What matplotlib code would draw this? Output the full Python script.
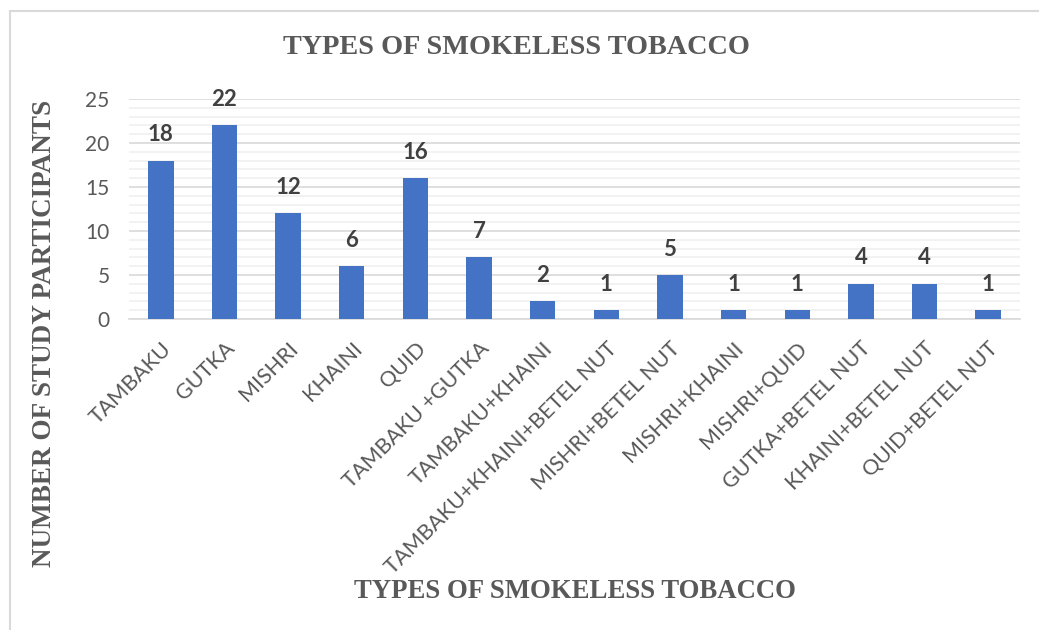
import numpy as np
import matplotlib.pyplot as plt
from matplotlib.patches import Rectangle
from matplotlib.ticker import MultipleLocator

# data
categories = ['TAMBAKU', 'GUTKA', 'MISHRI', 'KHAINI', 'QUID', 'TAMBAKU +GUTKA',
              'TAMBAKU+KHAINI', 'TAMBAKU+KHAINI+BETEL NUT', 'MISHRI+BETEL NUT',
              'MISHRI+KHAINI', 'MISHRI+QUID', 'GUTKA+BETEL NUT',
              'KHAINI+BETEL NUT', 'QUID+BETEL NUT']
counts = [18, 22, 12, 6, 16, 7, 2, 1, 5, 1, 1, 4, 4, 1]
yticks = [0, 5, 10, 15, 20, 25]

title = 'TYPES OF SMOKELESS TOBACCO'
xlabel = 'TYPES OF SMOKELESS TOBACCO'
ylabel = 'NUMBER OF STUDY PARTICIPANTS'

def main():
    fig = plt.figure(figsize=(10.39, 6.30), dpi=100)
    fig.patch.set_facecolor('white')
    # chart border (light gray, cut by the image on right/bottom)
    fig.add_artist(Rectangle((10/1039, -0.05), 1.1, 1 - 11/630 + 0.05,
                             transform=fig.transFigure, fill=False,
                             edgecolor='#d9d9d9', lw=1.5))

    ax = fig.add_axes([129/1039, 1 - 319/630, (1020 - 129)/1039, (319 - 99)/630])
    x = np.arange(len(categories))
    ax.bar(x, counts, width=0.4, color='#4472c4', zorder=3)

    for xi, v in zip(x, counts):
        ax.annotate(str(v), (xi, v), xytext=(0, 14), textcoords='offset points',
                    ha='center', va='baseline', fontsize=16, fontweight='bold',
                    color='#404040', family='Lato')

    ax.set_xlim(-0.5, len(categories) - 0.5)
    ax.set_ylim(0, 25)
    ax.set_yticks(yticks)
    ax.yaxis.set_minor_locator(MultipleLocator(1))
    ax.grid(axis='y', which='major', color='#d9d9d9', lw=1.2, zorder=0)
    ax.grid(axis='y', which='minor', color='#f0f0f0', lw=1.2, zorder=0)
    for s in ['top', 'right', 'left']:
        ax.spines[s].set_visible(False)
    ax.spines['bottom'].set_color('#d9d9d9')
    ax.spines['bottom'].set_linewidth(1.2)
    ax.tick_params(axis='both', which='both', length=0)
    ax.tick_params(axis='y', labelsize=15, labelcolor='#595959', pad=14)
    ax.set_xticks(x)
    ax.set_xticklabels(categories, rotation=45, ha='right', rotation_mode='anchor',
                       fontsize=15.5, color='#595959', family='Lato')
    for lab in ax.get_yticklabels():
        lab.set_family('Lato')
    ax.tick_params(axis='x', pad=14)

    fig.text(516/1039, 1 - 48/630, title, ha='center', va='center',
             family='Liberation Serif', fontweight='bold', fontsize=20.3, color='#595959')
    fig.text(575/1039, 1 - 592/630, xlabel, ha='center', va='center',
             family='Liberation Serif', fontweight='bold', fontsize=19.3, color='#595959')
    fig.text(45/1039, 1 - 333/630, ylabel, ha='center', va='center', rotation=90,
             family='Liberation Serif', fontweight='bold', fontsize=19.5, color='#595959')

    fig.savefig('out.png', dpi=100)

if __name__ == "__main__":
    main()
